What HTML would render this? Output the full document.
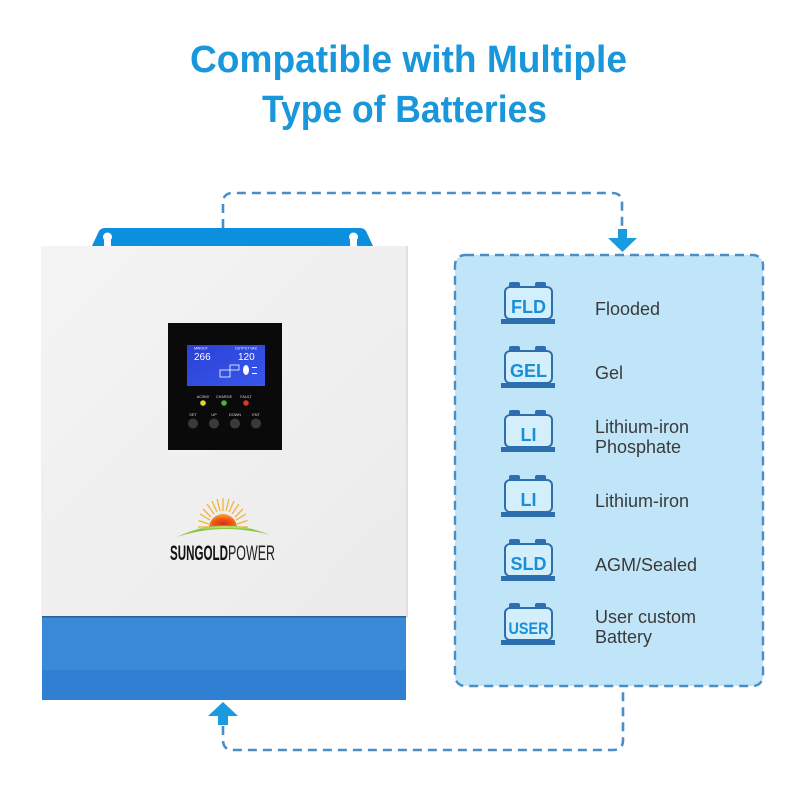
<!DOCTYPE html>
<html>
<head>
<meta charset="utf-8">
<style>
  html,body{margin:0;padding:0;background:#ffffff;}
  body{width:800px;height:786px;overflow:hidden;}
  svg{display:block;}
  .t{font-family:"Liberation Sans",Arial,sans-serif;}
</style>
</head>
<body>
<svg width="800" height="786" viewBox="0 0 800 786" xmlns="http://www.w3.org/2000/svg">
  <defs>
    <linearGradient id="panel" x1="0" y1="0" x2="1" y2="1">
      <stop offset="0" stop-color="#f4f4f4"/>
      <stop offset="1" stop-color="#ebebeb"/>
    </linearGradient>
    <linearGradient id="screen" x1="0" y1="0" x2="1" y2="1">
      <stop offset="0" stop-color="#2c40d6"/>
      <stop offset="1" stop-color="#3858ea"/>
    </linearGradient>
    <radialGradient id="sun" cx="0.5" cy="0.7" r="0.6">
      <stop offset="0" stop-color="#e02a10"/>
      <stop offset="0.6" stop-color="#ee5a18"/>
      <stop offset="1" stop-color="#f49a28"/>
    </radialGradient>
  </defs>

  <!-- Title -->
  <text class="t" x="190" y="72" font-size="38" font-weight="bold" fill="#1a97db" textLength="437" lengthAdjust="spacingAndGlyphs">Compatible with Multiple</text>
  <text class="t" x="262" y="122" font-size="38" font-weight="bold" fill="#1a97db" textLength="285" lengthAdjust="spacingAndGlyphs">Type of Batteries</text>

  <!-- Top dashed connector -->
  <path d="M223,228 V203 Q223,193 233,193 H612 Q622,193 622,203 V231" fill="none" stroke="#4b8ec6" stroke-width="2.6" stroke-dasharray="9 6"/>
  <rect x="618" y="229" width="9" height="10" fill="#1a9be0"/>
  <polygon points="608,238 637,238 622.5,252" fill="#1a9be0"/>

  <!-- Bracket -->
  <path d="M92,246 L99,231 Q101,228 105,228 L360,228 Q364,228 366,231 L373,246 Z" fill="#0b8fde"/>
  <circle cx="107.5" cy="237" r="4.5" fill="#ffffff"/>
  <rect x="104" y="237" width="7" height="9" fill="#ffffff"/>
  <circle cx="353.5" cy="237" r="4.5" fill="#ffffff"/>
  <rect x="350" y="237" width="7" height="9" fill="#ffffff"/>

  <!-- Inverter white panel -->
  <rect x="41" y="246" width="367" height="372" fill="url(#panel)"/>
  <rect x="406" y="246" width="2" height="372" fill="#e0e0e0"/>

  <!-- Blue bottom -->
  <rect x="42" y="617" width="364" height="54" fill="#3a89d8"/>
  <rect x="42" y="670" width="364" height="30" fill="#2f7fd3"/>
  <rect x="42" y="616" width="364" height="1.5" fill="#2a5f96"/>

  <!-- Display -->
  <rect x="168" y="323" width="114" height="127" fill="#0a0a0a"/>
  <rect x="187" y="345" width="78" height="41" fill="url(#screen)"/>
  <text class="t" x="194" y="349.5" font-size="3.5" fill="#ffffff">MWOUT</text>
  <text class="t" x="194" y="360" font-size="10" fill="#ffffff">266</text>
  <text class="t" x="235" y="349.5" font-size="3.5" fill="#ffffff">OUTPUT  VAC</text>
  <text class="t" x="238" y="360" font-size="10" fill="#ffffff">120</text>
  <rect x="220" y="370" width="10" height="7" fill="none" stroke="#ffffff" stroke-width="0.8"/>
  <rect x="230" y="365" width="9" height="5" fill="none" stroke="#ffffff" stroke-width="0.8"/>
  <ellipse cx="246" cy="370" rx="3" ry="5" fill="#ffffff"/>
  <rect x="252" y="367" width="5" height="1" fill="#ffffff"/>
  <rect x="252" y="373" width="5" height="1" fill="#ffffff"/>

  <text class="t" x="203" y="398" font-size="3.8" fill="#dddddd" text-anchor="middle">AC/INV</text>
  <text class="t" x="224" y="398" font-size="3.8" fill="#dddddd" text-anchor="middle">CHARGE</text>
  <text class="t" x="246" y="398" font-size="3.8" fill="#dddddd" text-anchor="middle">FAULT</text>
  <circle cx="203" cy="403" r="2.8" fill="#e2d22a"/>
  <circle cx="224" cy="403" r="2.8" fill="#45b33c"/>
  <circle cx="246" cy="403" r="2.8" fill="#e0321e"/>

  <text class="t" x="193" y="416" font-size="3.8" fill="#dddddd" text-anchor="middle">SET</text>
  <text class="t" x="214" y="416" font-size="3.8" fill="#dddddd" text-anchor="middle">UP</text>
  <text class="t" x="235" y="416" font-size="3.8" fill="#dddddd" text-anchor="middle">DOWN</text>
  <text class="t" x="256" y="416" font-size="3.8" fill="#dddddd" text-anchor="middle">ENT</text>
  <circle cx="193" cy="423.5" r="5" fill="#3a3a3a"/>
  <circle cx="214" cy="423.5" r="5" fill="#3a3a3a"/>
  <circle cx="235" cy="423.5" r="5" fill="#3a3a3a"/>
  <circle cx="256" cy="423.5" r="5" fill="#3a3a3a"/>

  <!-- Sun logo -->
  <g stroke="#f2b23a" stroke-width="1.3">
    <line x1="209" y1="527" x2="198" y2="527"/>
    <line x1="209" y1="524" x2="198.5" y2="520.5"/>
    <line x1="210" y1="520" x2="200" y2="514"/>
    <line x1="211" y1="517" x2="203" y2="509"/>
    <line x1="214" y1="514" x2="207" y2="504"/>
    <line x1="217" y1="512" x2="212" y2="501"/>
    <line x1="220" y1="511" x2="217" y2="499"/>
    <line x1="223" y1="511" x2="223" y2="498"/>
    <line x1="226" y1="511" x2="229" y2="499"/>
    <line x1="229" y1="512" x2="234" y2="501"/>
    <line x1="232" y1="514" x2="239" y2="504"/>
    <line x1="235" y1="517" x2="243" y2="509"/>
    <line x1="236" y1="520" x2="246" y2="514"/>
    <line x1="237" y1="524" x2="247.5" y2="520.5"/>
    <line x1="237" y1="527" x2="248" y2="527"/>
  </g>
  <path d="M209,528 A14,14 0 0 1 237,528 Z" fill="url(#sun)"/>
  <path d="M177,537 Q222,515 270,535 Q222,522 177,537 Z" fill="#8cc63f"/>
  <path d="M200,529 Q224,523 252,529 Q226,527 200,529 Z" fill="#b6dc6a"/>
  <text class="t" x="170" y="560" font-size="21" font-weight="bold" fill="#111111" textLength="58" lengthAdjust="spacingAndGlyphs">SUNGOLD</text>
  <text class="t" x="228" y="560" font-size="21" fill="#222222" textLength="47" lengthAdjust="spacingAndGlyphs">POWER</text>

  <!-- Bottom connector -->
  <polygon points="223,702 208,716 238,716" fill="#1a9be0"/>
  <rect x="218" y="715" width="10" height="10" fill="#1a9be0"/>
  <path d="M223,726 V740 Q223,750 233,750 H613 Q623,750 623,740 V687" fill="none" stroke="#4b8ec6" stroke-width="2.6" stroke-dasharray="9 6"/>

  <!-- Battery box -->
  <rect x="455" y="255" width="308" height="431" rx="10" fill="#c0e5f9" stroke="#4b8ec6" stroke-width="2.4" stroke-dasharray="9 6"/>

  <!-- Battery icons -->
  <g id="icons">
    <!-- row template: cy -->
    <!-- FLD cy=304 -->
    <rect x="509" y="282" width="11" height="7" rx="2" fill="#2d6fae"/>
    <rect x="535" y="282" width="11" height="7" rx="2" fill="#2d6fae"/>
    <rect x="505" y="287" width="47" height="32" rx="5" fill="#d4effc" stroke="#2d6fae" stroke-width="2"/>
    <rect x="501" y="319" width="54" height="5" fill="#2d6fae"/>
    <text class="t" x="528.5" y="313" font-size="18" font-weight="bold" fill="#1a8fd8" text-anchor="middle">FLD</text>

    <!-- GEL cy=368 -->
    <rect x="509" y="346" width="11" height="7" rx="2" fill="#2d6fae"/>
    <rect x="535" y="346" width="11" height="7" rx="2" fill="#2d6fae"/>
    <rect x="505" y="351" width="47" height="32" rx="5" fill="#d4effc" stroke="#2d6fae" stroke-width="2"/>
    <rect x="501" y="383" width="54" height="5" fill="#2d6fae"/>
    <text class="t" x="528.5" y="377" font-size="18" font-weight="bold" fill="#1a8fd8" text-anchor="middle">GEL</text>

    <!-- LI cy=432 -->
    <rect x="509" y="410" width="11" height="7" rx="2" fill="#2d6fae"/>
    <rect x="535" y="410" width="11" height="7" rx="2" fill="#2d6fae"/>
    <rect x="505" y="415" width="47" height="32" rx="5" fill="#d4effc" stroke="#2d6fae" stroke-width="2"/>
    <rect x="501" y="447" width="54" height="5" fill="#2d6fae"/>
    <text class="t" x="528.5" y="441" font-size="18" font-weight="bold" fill="#1a8fd8" text-anchor="middle">LI</text>

    <!-- LI cy=497 -->
    <rect x="509" y="475" width="11" height="7" rx="2" fill="#2d6fae"/>
    <rect x="535" y="475" width="11" height="7" rx="2" fill="#2d6fae"/>
    <rect x="505" y="480" width="47" height="32" rx="5" fill="#d4effc" stroke="#2d6fae" stroke-width="2"/>
    <rect x="501" y="512" width="54" height="5" fill="#2d6fae"/>
    <text class="t" x="528.5" y="506" font-size="18" font-weight="bold" fill="#1a8fd8" text-anchor="middle">LI</text>

    <!-- SLD cy=561 -->
    <rect x="509" y="539" width="11" height="7" rx="2" fill="#2d6fae"/>
    <rect x="535" y="539" width="11" height="7" rx="2" fill="#2d6fae"/>
    <rect x="505" y="544" width="47" height="32" rx="5" fill="#d4effc" stroke="#2d6fae" stroke-width="2"/>
    <rect x="501" y="576" width="54" height="5" fill="#2d6fae"/>
    <text class="t" x="528.5" y="570" font-size="18" font-weight="bold" fill="#1a8fd8" text-anchor="middle">SLD</text>

    <!-- USER cy=625 -->
    <rect x="509" y="603" width="11" height="7" rx="2" fill="#2d6fae"/>
    <rect x="535" y="603" width="11" height="7" rx="2" fill="#2d6fae"/>
    <rect x="505" y="608" width="47" height="32" rx="5" fill="#d4effc" stroke="#2d6fae" stroke-width="2"/>
    <rect x="501" y="640" width="54" height="5" fill="#2d6fae"/>
    <text class="t" x="508.5" y="634" font-size="17" font-weight="bold" fill="#1a8fd8" textLength="40" lengthAdjust="spacingAndGlyphs">USER</text>
  </g>

  <!-- Labels -->
  <g class="t" font-size="18" fill="#3a3a3a">
    <text class="t" x="595" y="315">Flooded</text>
    <text class="t" x="595" y="379">Gel</text>
    <text class="t" x="595" y="433">Lithium-iron</text>
    <text class="t" x="595" y="453">Phosphate</text>
    <text class="t" x="595" y="507">Lithium-iron</text>
    <text class="t" x="595" y="571">AGM/Sealed</text>
    <text class="t" x="595" y="623">User custom</text>
    <text class="t" x="595" y="643">Battery</text>
  </g>
</svg>
</body>
</html>
